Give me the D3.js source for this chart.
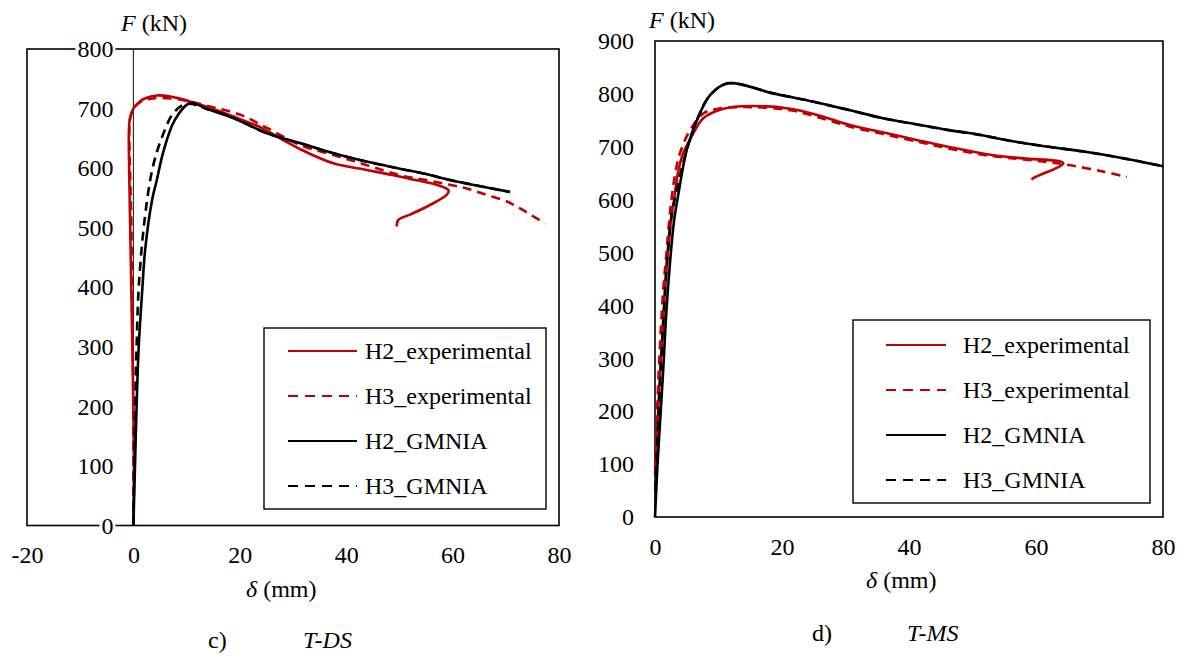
<!DOCTYPE html>
<html>
<head>
<meta charset="utf-8">
<script src="https://cdn.jsdelivr.net/npm/d3@7"></script>
<style>
html,body{margin:0;padding:0;background:#fff;}
svg{display:block;}
svg text{font-family:"Liberation Serif","Times New Roman",serif !important;}
</style>
</head>
<body>
<svg id="chart" width="1184" height="658"></svg>
<script>
// ---------- DATA ----------
const seriesNames = ["H2_experimental", "H3_experimental", "H2_GMNIA", "H3_GMNIA"];
const seriesColors = ["#c00000", "#c00000", "#000000", "#000000"];
const seriesDashed = [false, true, false, true];

// Chart c) T-DS
const ds_xTicks = [-20, 0, 20, 40, 60, 80];
const ds_yTicks = [0, 100, 200, 300, 400, 500, 600, 700, 800];
const ds_H2exp_d = [0, 0.1, 0, -0.2, -0.4, -0.6, -0.8, -0.85, -0.7, 0, 1.2, 2.5, 4.4, 7, 10.6, 14.5, 18.7, 24, 28, 31.3, 37.6, 43.8, 48.9, 53, 57, 59.2, 59.0, 55.3, 52, 49.8, 49.5];
const ds_H2exp_F = [0, 100, 200, 300, 400, 500, 600, 660, 680, 700, 712, 718, 722, 720, 712, 701, 687, 668, 648, 632, 608, 597, 588, 580, 572, 563, 556, 536, 522, 513, 502];
const ds_H3exp_d = [0, 0, -0.1, -0.3, -0.5, -0.7, -0.75, -0.6, 0.2, 1.5, 3, 5, 8, 10.6, 15, 20, 25, 31.3, 37.6, 43.9, 50.1, 55, 59.5, 63, 66.4, 70.2, 72.6, 75, 77.4];
const ds_H3exp_F = [0, 150, 300, 450, 550, 620, 665, 685, 702, 712, 716, 718, 716, 712, 702, 690, 668, 639, 622, 605, 588, 580, 572, 565, 555, 544, 533, 520, 507];
const ds_H2gm_d = [0, 0.3, 0.6, 1.0, 1.7, 2.2, 3.5, 4.4, 5.7, 7.8, 10.6, 14, 18.8, 25, 31.3, 37.6, 43.8, 50.1, 55, 59.5, 65, 70.8];
const ds_H2gm_F = [0, 100, 200, 300, 400, 462, 546, 580, 630, 681, 709, 699, 684, 659, 642, 625, 611, 599, 590, 580, 570, 560];
const ds_H3gm_d = [0, 0.15, 0.35, 0.6, 1.0, 2.1, 3.6, 5.3, 7.5, 10.0, 14, 18.8, 25, 31.3, 37.6, 43.8, 50.1, 55, 59.5, 65, 70.8];
const ds_H3gm_F = [0, 100, 200, 300, 400, 513, 600, 650, 692, 708, 699, 684, 659, 642, 625, 611, 599, 590, 580, 570, 560];

// Chart d) T-MS
const ms_xTicks = [0, 20, 40, 60, 80];
const ms_yTicks = [0, 100, 200, 300, 400, 500, 600, 700, 800, 900];
const ms_H2exp_d = [0, 0.3, 0.7, 1.2, 1.7, 2.2, 2.6, 3.0, 3.6, 4.5, 5.5, 7.6, 10.8, 15, 21.3, 26.5, 30.7, 36, 41.2, 47, 53.3, 58, 64.3, 59.6, 59.3];
const ms_H2exp_F = [80, 150, 250, 350, 450, 520, 570, 600, 650, 690, 713, 754, 772, 777, 772, 757, 741, 727, 713, 698, 684, 678, 669, 641, 638];
const ms_H3exp_d = [0.1, 0.2, 0.5, 0.9, 1.3, 1.8, 2.4, 3.1, 3.9, 5.5, 7.6, 10, 15, 21.3, 26.5, 30.7, 36, 41.2, 47, 53.3, 58, 62, 65.4, 70.6, 74.3];
const ms_H3exp_F = [90, 150, 250, 350, 430, 498, 580, 643, 687, 731, 763, 772, 775, 769, 753, 738, 724, 710, 695, 682, 676, 671, 665, 653, 643];
const ms_H2gm_d = [0, 0.4, 0.8, 1.3, 1.8, 2.4, 3.0, 3.7, 5.0, 6.6, 8.7, 11.5, 18.6, 25, 30.7, 35.9, 40, 46.5, 50, 57, 62, 67.5, 72, 76, 80];
const ms_H2gm_F = [0, 100, 180, 280, 390, 486, 560, 612, 694, 750, 798, 820, 801, 785, 769, 754, 745, 731, 725, 709, 700, 691, 682, 673, 663];
const ms_H3gm_d = [0.05, 0.2, 0.5, 0.9, 1.4, 1.9, 2.5, 3.3, 5.0, 6.6, 8.7, 11.5, 18.6, 25, 30.7, 35.9, 40, 46.5, 50, 57, 62, 67.5, 72, 76, 80];
const ms_H3gm_F = [50, 100, 180, 280, 390, 486, 560, 612, 694, 750, 798, 820, 801, 785, 769, 754, 745, 731, 725, 709, 700, 691, 682, 673, 663];

// ---------- DRAW ----------
const svg = d3.select("#chart");
const FONT = 24;
const FAM = "'Liberation Serif', 'Times New Roman', serif";

function zip(d, F) { return d.map((v, i) => [v, F[i]]); }

function drawChart(cfg) {
  const g = svg.append("g").style("font-family", FAM);
  const x = d3.scaleLinear().domain(cfg.xDomain).range(cfg.xRange);
  const y = d3.scaleLinear().domain(cfg.yDomain).range(cfg.yRange);

  g.append("rect")
    .attr("x", x(cfg.xDomain[0])).attr("y", y(cfg.yDomain[1]))
    .attr("width", x(cfg.xDomain[1]) - x(cfg.xDomain[0]))
    .attr("height", y(cfg.yDomain[0]) - y(cfg.yDomain[1]))
    .attr("fill", "none").attr("stroke", "#000").attr("stroke-width", 1.6);

  if (cfg.xDomain[0] < 0) {
    g.append("line")
      .attr("x1", x(0)).attr("x2", x(0))
      .attr("y1", y(cfg.yDomain[0])).attr("y2", y(cfg.yDomain[1]))
      .attr("stroke", "#222").attr("stroke-width", 1.1);
  }

  const line = d3.line().x(d => x(d[0])).y(d => y(d[1])).curve(d3.curveCatmullRom.alpha(0.5));
  cfg.series.forEach((s, i) => {
    g.append("path")
      .attr("d", line(s))
      .attr("fill", "none")
      .attr("stroke", seriesColors[i])
      .attr("stroke-width", 2.6)
      .attr("stroke-linejoin", "round")
      .attr("stroke-dasharray", seriesDashed[i] ? "9,6" : null);
  });

  const fmt = d => String(d);
  const yAx = g.append("g")
    .attr("transform", `translate(${x(0)},0)`)
    .call(d3.axisLeft(y).tickValues(cfg.yTicks).tickSize(0).tickPadding(cfg.yPad).tickFormat(fmt));
  yAx.attr("font-family", null).attr("font-size", null);
  yAx.select(".domain").remove();
  yAx.selectAll("text").style("font-family", FAM).attr("font-size", FONT).attr("fill", "#000");
  yAx.selectAll(".tick").each(function () {
    const t = d3.select(this).select("text");
    const bb = t.node().getBBox();
    d3.select(this).insert("rect", "text")
      .attr("x", bb.x - 2).attr("y", bb.y + 3).attr("width", bb.width + 4).attr("height", bb.height - 6)
      .attr("fill", "#fff");
  });

  const xAx = g.append("g")
    .attr("transform", `translate(0,${y(0)})`)
    .call(d3.axisBottom(x).tickValues(cfg.xTicks).tickSize(0).tickPadding(cfg.xPad).tickFormat(fmt));
  xAx.attr("font-family", null).attr("font-size", null);
  xAx.select(".domain").remove();
  xAx.selectAll("text").style("font-family", FAM).attr("font-size", FONT).attr("fill", "#000");

  const ft = g.append("text").attr("x", cfg.fTitle[0]).attr("y", cfg.fTitle[1]).attr("font-size", FONT);
  ft.append("tspan").attr("font-style", "italic").text("F");
  ft.append("tspan").text(" (kN)");
  const dt = g.append("text").attr("x", cfg.dTitle[0]).attr("y", cfg.dTitle[1]).attr("font-size", FONT);
  dt.append("tspan").attr("font-style", "italic").text("δ");
  dt.append("tspan").text(" (mm)");

  g.append("text").attr("x", cfg.cap[0]).attr("y", cfg.cap[2]).attr("font-size", FONT).text(cfg.capLetter);
  g.append("text").attr("x", cfg.cap[1]).attr("y", cfg.cap[2]).attr("font-size", FONT).attr("font-style", "italic").text(cfg.capName);

  const L = cfg.legend;
  g.append("rect").attr("x", L.x).attr("y", L.y).attr("width", L.w).attr("height", L.h)
    .attr("fill", "#fff").attr("stroke", "#000").attr("stroke-width", 1.4);
  seriesNames.forEach((name, i) => {
    const ry = L.rows[i];
    g.append("line").attr("x1", L.lx1).attr("x2", L.lx2).attr("y1", ry).attr("y2", ry)
      .attr("stroke", seriesColors[i]).attr("stroke-width", 2.2)
      .attr("stroke-dasharray", seriesDashed[i] ? "10,7" : null);
    g.append("text").attr("x", L.tx).attr("y", ry + 8).attr("font-size", FONT).text(name);
  });
}

drawChart({
  xDomain: [-20, 80], xRange: [27, 559],
  yDomain: [0, 800], yRange: [525.5, 49],
  xTicks: ds_xTicks, yTicks: ds_yTicks, yPad: 20, xPad: 20,
  series: [zip(ds_H2exp_d, ds_H2exp_F), zip(ds_H3exp_d, ds_H3exp_F), zip(ds_H2gm_d, ds_H2gm_F), zip(ds_H3gm_d, ds_H3gm_F)],
  fTitle: [121, 31], dTitle: [246, 597],
  cap: [208, 303, 648], capLetter: "c)", capName: "T-DS",
  legend: { x: 264, y: 328, w: 282, h: 181, lx1: 288, lx2: 357, tx: 365, rows: [351, 396, 441, 486] }
});

drawChart({
  xDomain: [0, 80], xRange: [655, 1163],
  yDomain: [0, 900], yRange: [517, 41],
  xTicks: ms_xTicks, yTicks: ms_yTicks, yPad: 21, xPad: 21,
  series: [zip(ms_H2exp_d, ms_H2exp_F), zip(ms_H3exp_d, ms_H3exp_F), zip(ms_H2gm_d, ms_H2gm_F), zip(ms_H3gm_d, ms_H3gm_F)],
  fTitle: [649, 28], dTitle: [866, 588],
  cap: [812, 907, 641], capLetter: "d)", capName: "T-MS",
  legend: { x: 853, y: 320, w: 297, h: 183, lx1: 886, lx2: 946, tx: 963, rows: [345, 390, 435, 480] }
});
</script>
</body>
</html>
